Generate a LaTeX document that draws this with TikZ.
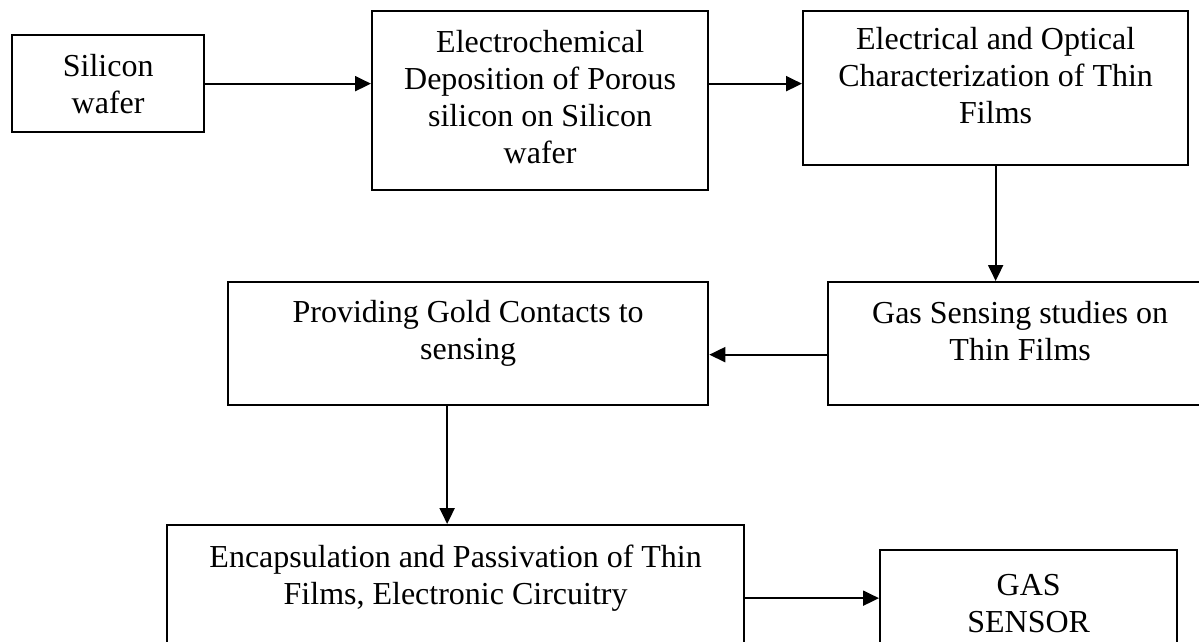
\documentclass[tikz,border=0pt]{standalone}
\usepackage{fontspec}
\setmainfont{Liberation Serif}
\usetikzlibrary{arrows.meta}
\tikzset{
  >={Triangle[length=16pt,width=15pt]},
  font=\fontsize{32}{37}\selectfont,
  stage/.style ={draw, line width=2.3pt, inner sep=0pt, align=center, anchor=north west},
  flow/.style  ={->, line width=2pt},
}

\begin{document}
\begin{tikzpicture}[x=1pt, y=-1pt]
  \useasboundingbox (0,0) rectangle (1199,641);
  \clip (0,0) rectangle (1199,641);
  \fill[white] (0,0) rectangle (1199,641);

  % top row
  \node[stage, minimum width=192pt, text height=78pt, text depth=19pt] (wafer) at (11,34) {Silicon\\wafer};
  \node[stage, minimum width=336pt, text height=152pt, text depth=27pt] (depo) at (371,10) {Electrochemical\\Deposition of Porous\\silicon on Silicon\\wafer};
  \node[stage, minimum width=385pt, text height=112pt, text depth=42pt] (charac) at (802,10) {Electrical and Optical\\Characterization of Thin\\Films};

  % middle row
  \node[stage, minimum width=384pt, text height=78pt, text depth=45pt] (sensing) at (827,281) {Gas Sensing studies on\\Thin Films};
  \node[stage, minimum width=480pt, text height=77pt, text depth=46pt] (contacts) at (227,281) {Providing Gold Contacts to\\sensing};

  % bottom row
  \node[stage, minimum width=577pt, text height=79pt, text depth=67pt] (encap) at (166,524) {Encapsulation and Passivation of Thin\\Films, Electronic Circuitry};
  \node[stage, minimum width=297pt, text height=82pt, text depth=14pt] (sensor) at (879,549) {GAS\\SENSOR};

  \draw[flow] (wafer.east) -- (wafer.east -| depo.west);
  \draw[flow] (depo.east |- wafer.east) -- (charac.west |- wafer.east);
  \draw[flow] (charac.south) -- (charac.south |- sensing.north);
  \draw[flow] ([yshift=-11pt]sensing.west) -- ([yshift=-11pt]contacts.east);
  \draw[flow] ([xshift=-21pt]contacts.south) -- ([xshift=-21pt]contacts.south |- encap.north);
  \draw[flow] (encap.east) -- (sensor.west);
\end{tikzpicture}
\end{document}
